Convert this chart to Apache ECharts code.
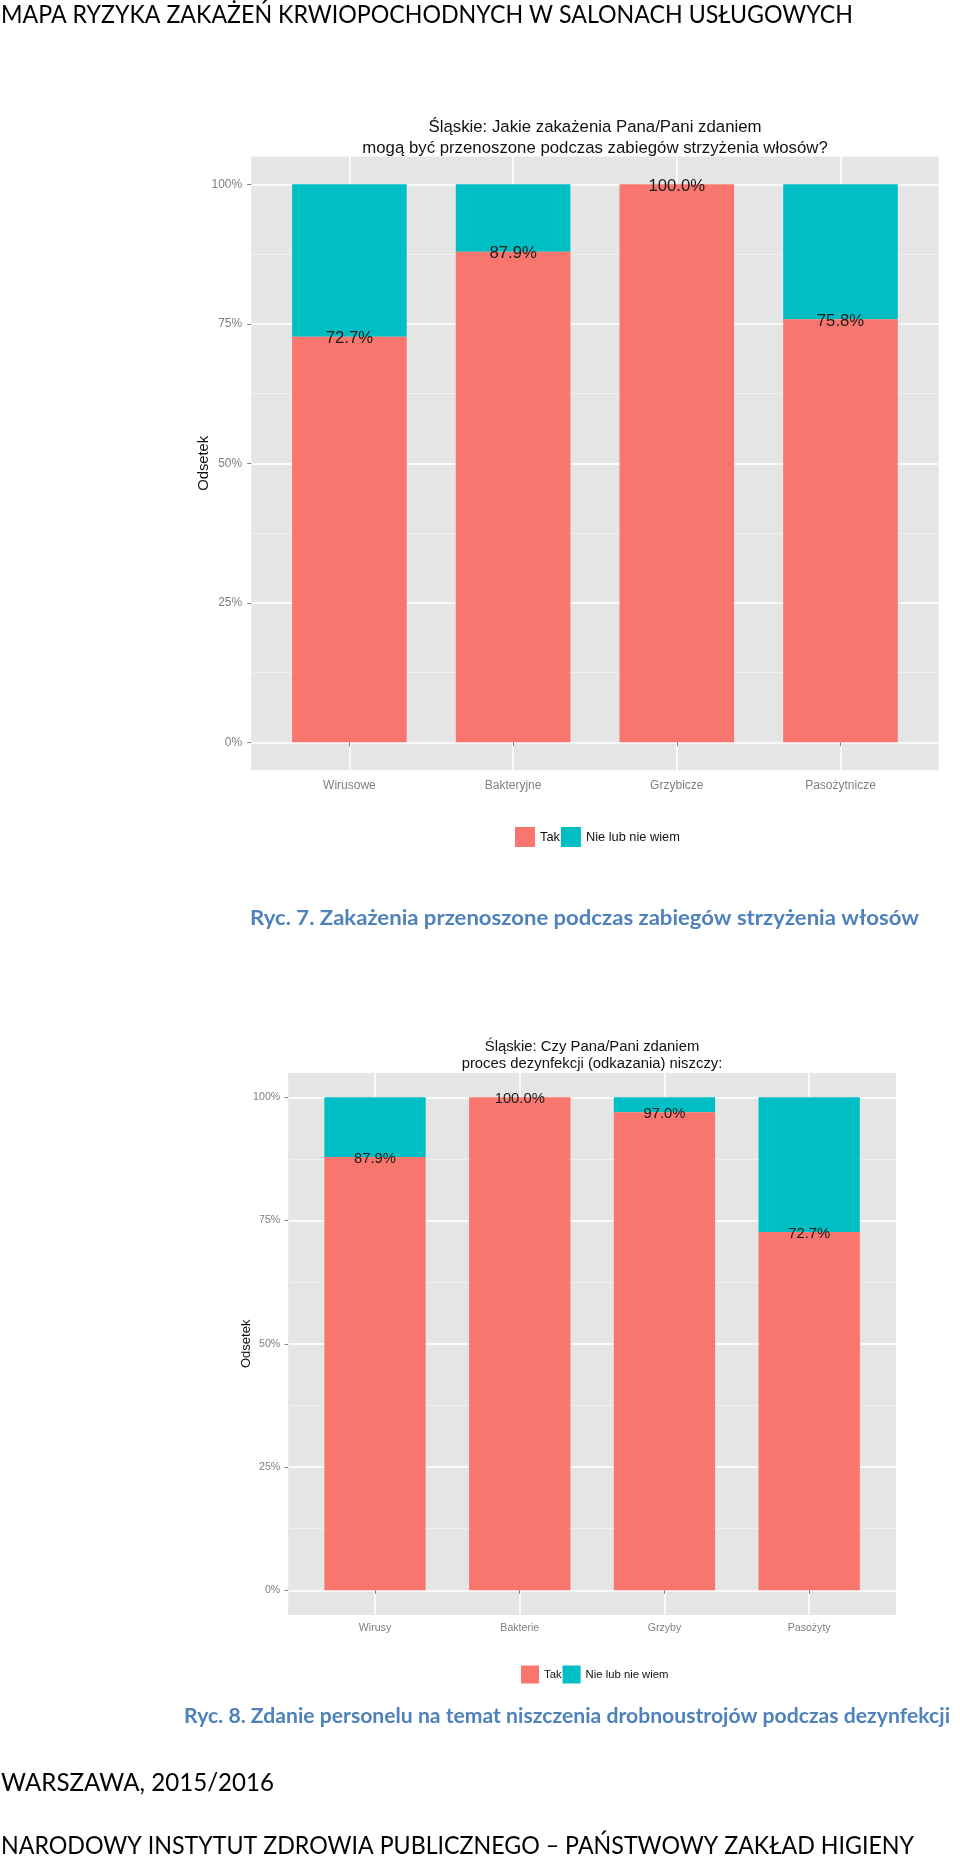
<!DOCTYPE html>
<html>
<head>
<meta charset="utf-8">
<script src="https://cdn.jsdelivr.net/npm/echarts@6/dist/echarts.min.js"></script>
<style>
html,body{margin:0;padding:0;background:#fff;}
#c{width:960px;height:1861px;}
</style>
</head>
<body>
<div id="c"></div>
<script>
// ---------- DATA ----------
const cats1 = ['Wirusowe', 'Bakteryjne', 'Grzybicze', 'Pasożytnicze'];
const tak1 = [72.7, 87.9, 100.0, 75.8];
const nie1 = [27.3, 12.1, 0.0, 24.2];

const cats2 = ['Wirusy', 'Bakterie', 'Grzyby', 'Pasożyty'];
const tak2 = [87.9, 100.0, 97.0, 72.7];
const nie2 = [12.1, 0.0, 3.0, 27.3];

const yTicks = [0, 25, 50, 75, 100];
const yMinorTicks = [12.5, 37.5, 62.5, 87.5];
const catPositions = [1, 2, 3, 4];
const seriesNames = ['Tak', 'Nie lub nie wiem'];
const axisName = 'Odsetek';

const title1 = 'Śląskie: Jakie zakażenia Pana/Pani zdaniem\nmogą być przenoszone podczas zabiegów strzyżenia włosów?';
const title2 = 'Śląskie: Czy Pana/Pani zdaniem\nproces dezynfekcji (odkazania) niszczy:';
const headerText = 'MAPA RYZYKA ZAKAŻEŃ KRWIOPOCHODNYCH W SALONACH USŁUGOWYCH';
const caption1 = 'Ryc. 7. Zakażenia przenoszone podczas zabiegów strzyżenia włosów';
const caption2 = 'Ryc. 8. Zdanie personelu na temat niszczenia drobnoustrojów podczas dezynfekcji';
const footer1 = 'WARSZAWA, 2015/2016';
const footer2 = 'NARODOWY INSTYTUT ZDROWIA PUBLICZNEGO – PAŃSTWOWY ZAKŁAD HIGIENY';

// ---------- LAYOUT / STYLE ----------
const COL_TAK = '#F8766D';
const COL_NIE = '#00BFC4';
const PANEL_BG = '#E5E5E5';
const AXIS_GREY = '#7F7F7F';
const FONT = 'Liberation Sans, Arial, sans-serif';

const charts = [
  { cats: cats1, tak: tak1, nie: nie1, title: title1,
    layout: { left: 251.2, top: 156.4, width: 687.5, height: 613.8, s: 1,
              titleX: 595, titleTop: 116.5, titleSize: 16.8, titleLH: 21.3,
              legendLeft: 515, legendTop: 827, icon: 20, legendFont: 12.8, legendGap: 1,
              nameGap: 40, nameSize: 14.8, tickFont: 12, labelMargin: 9, barFont: 16.7 } },
  { cats: cats2, tak: tak2, nie: nie2, title: title2,
    layout: { left: 288.2, top: 1072.7, width: 607.8, height: 542.2, s: 0.884,
              titleX: 592, titleTop: 1038.8, titleSize: 14.85, titleLH: 16.6,
              legendLeft: 521, legendTop: 1665.5, icon: 18, legendFont: 11.3, legendGap: 1,
              nameGap: 35, nameSize: 13, tickFont: 10.6, labelMargin: 8, barFont: 14.8 } }
];

const grid = [], xAxis = [], yAxis = [], series = [], title = [], legend = [];

charts.forEach((c, i) => {
  const L = c.layout;
  const band = L.width / 4.2;           // discrete scale expanded by 0.6 on each side
  // panel grid (index 2i): background, gridlines, ticks, labels
  grid.push({ left: L.left, top: L.top, width: L.width, height: L.height,
    show: true, backgroundColor: PANEL_BG, borderWidth: 0,
    containLabel: false, outerBoundsMode: 'none' });
  // bar grid (index 2i+1): category bands for the stacked bars
  grid.push({ left: L.left + 0.1 * band, top: L.top, width: 4 * band, height: L.height,
    show: false, containLabel: false, outerBoundsMode: 'none' });

  // panel x axis
  xAxis.push({ type: 'value', gridIndex: 2 * i, min: 0.4, max: 4.6,
    axisLine: { show: false },
    axisTick: { show: true, customValues: catPositions, length: 4 * L.s,
                lineStyle: { color: AXIS_GREY, width: 1 } },
    axisLabel: { show: true, customValues: catPositions,
                 formatter: v => c.cats[Math.round(v) - 1],
                 color: AXIS_GREY, fontSize: L.tickFont, margin: L.labelMargin, fontFamily: FONT },
    splitLine: { show: true, lineStyle: { color: '#FFFFFF', width: 1.5 } },
    minorTick: { show: false }, minorSplitLine: { show: false } });
  // bar x axis (hidden category axis)
  xAxis.push({ type: 'category', gridIndex: 2 * i + 1, data: c.cats, show: false, boundaryGap: true });

  // minor grid lines axis
  yAxis.push({ type: 'value', gridIndex: 2 * i, min: -5, max: 105, position: 'left',
    axisLine: { show: false },
    axisTick: { show: false, customValues: yMinorTicks },
    axisLabel: { show: false, customValues: yMinorTicks },
    splitLine: { show: true, lineStyle: { color: '#F2F2F2', width: 0.8 } } });
  // major axis
  yAxis.push({ type: 'value', gridIndex: 2 * i, min: -5, max: 105, position: 'left',
    name: axisName, nameLocation: 'middle', nameRotate: 90, nameGap: L.nameGap,
    nameMoveOverlap: false,
    nameTextStyle: { color: '#111', fontSize: L.nameSize, fontFamily: FONT },
    axisLine: { show: false },
    axisTick: { show: true, customValues: yTicks, length: 4 * L.s,
                lineStyle: { color: AXIS_GREY, width: 1 } },
    axisLabel: { show: true, customValues: yTicks, formatter: v => v + '%',
                 color: AXIS_GREY, fontSize: L.tickFont, margin: L.labelMargin, fontFamily: FONT },
    splitLine: { show: true, lineStyle: { color: '#FFFFFF', width: 1.5 } } });
  // bar y axis (hidden, same scale)
  yAxis.push({ type: 'value', gridIndex: 2 * i + 1, min: -5, max: 105, show: false,
    splitLine: { show: false } });

  const barX = 2 * i + 1, barY = 3 * i + 2;
  series.push({ type: 'bar', name: seriesNames[0], xAxisIndex: barX, yAxisIndex: barY,
    stack: 'st' + i, barWidth: '70%', z: 3,
    data: c.tak,
    itemStyle: { color: COL_TAK },
    label: { show: true, position: 'top', distance: 0, verticalAlign: 'middle', align: 'center',
             offset: [0, 2 * L.s],
             formatter: p => p.value.toFixed(1) + '%',
             color: '#1a1a1a', fontSize: L.barFont, fontFamily: FONT },
    emphasis: { disabled: true } });
  series.push({ type: 'bar', name: seriesNames[1], xAxisIndex: barX, yAxisIndex: barY,
    stack: 'st' + i, barWidth: '70%', z: 2,
    data: c.nie,
    itemStyle: { color: COL_NIE },
    emphasis: { disabled: true } });

  title.push({ text: c.title, left: L.titleX, top: L.titleTop, textAlign: 'center', padding: 0,
    textStyle: { fontSize: L.titleSize, lineHeight: L.titleLH, fontWeight: 'normal',
                 color: '#111', fontFamily: FONT } });

  legend.push({ data: seriesNames, left: L.legendLeft, top: L.legendTop, orient: 'horizontal',
    icon: 'rect', itemWidth: L.icon, itemHeight: L.icon, itemGap: L.legendGap, padding: 0,
    selectedMode: false,
    textStyle: { fontSize: L.legendFont, color: '#111', fontFamily: FONT } });
});

// ---------- document texts (Calibri look-alike via Lato, width-fitted) ----------
const mctx = document.createElement('canvas').getContext('2d');
function docText(text, x, y, size, weight, color, targetWidth) {
  mctx.font = weight + ' ' + size + 'px Lato';
  const w = mctx.measureText(text).width || targetWidth;
  return { type: 'text', x: x, y: y, scaleX: targetWidth / w, scaleY: 1, silent: true,
    style: { text: text, fontSize: size, fontWeight: weight, fontFamily: 'Lato',
             fill: color, align: 'left', verticalAlign: 'middle',
             textAlign: 'left', textVerticalAlign: 'middle' } };
}

const graphic = [
  docText(headerText, 1, 15, 24.3, 'normal', '#000', 852),
  docText(caption1, 250, 918, 21, 'bold', '#4F81BD', 669),
  docText(caption2, 184, 1716.5, 21, 'bold', '#4F81BD', 766),
  docText(footer1, 1, 1783.5, 24.3, 'normal', '#000', 273),
  docText(footer2, 1, 1846, 24.3, 'normal', '#000', 913)
];

const chart = echarts.init(document.getElementById('c'), null, { renderer: 'canvas', width: 960, height: 1861 });
chart.setOption({
  animation: false,
  backgroundColor: '#FFFFFF',
  textStyle: { fontFamily: FONT },
  grid, xAxis, yAxis, series, title, legend, graphic
});
</script>
</body>
</html>
